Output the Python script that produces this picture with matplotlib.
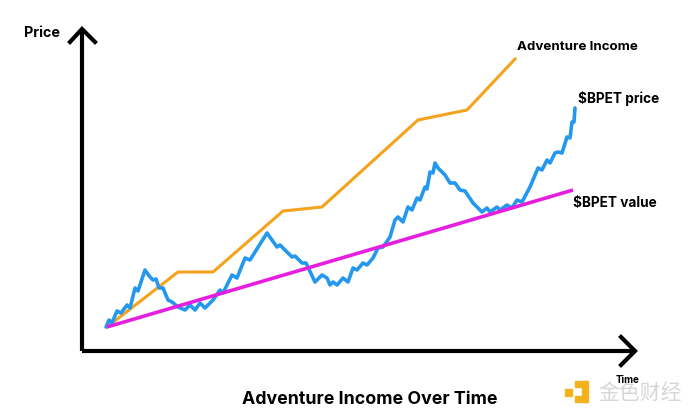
import matplotlib
matplotlib.use("Agg")
import matplotlib.pyplot as plt
from matplotlib.patches import Rectangle, Polygon

# ---- data (arbitrary units: time from origin, price from origin) ----
income_t = [25, 96, 131, 201, 240, 336, 385, 433]
income_p = [24, 79, 79, 140, 144, 231, 241, 292]

value_t = [25, 491]
value_p = [24, 161]

price_t = [24, 27, 30, 35, 39, 45, 48, 53, 56, 63, 68, 71, 74, 77, 81, 86, 90, 96,
           103, 108, 113, 118, 123, 131, 138, 141, 150, 155, 163, 168, 185, 195, 198,
           210, 213, 220, 224, 233, 240, 245, 248, 251, 255, 261, 266, 271, 275, 281,
           285, 291, 296, 301, 308, 313, 316, 321, 326, 330, 335, 338, 343, 345, 348,
           351, 353, 356, 363, 368, 373, 378, 383, 391, 400, 405, 408, 415, 418, 425,
           430, 435, 440, 448, 456, 460, 465, 468, 473, 476, 480, 485, 488, 490, 492, 493]
price_p = [24, 31, 28, 40, 38, 46, 43, 63, 60, 81, 74, 71, 72, 63, 63, 51, 49, 44,
           41, 46, 41, 48, 43, 51, 61, 58, 76, 73, 93, 91, 118, 104, 106,
           94, 95, 88, 88, 69, 76, 73, 66, 69, 66, 73, 69, 83, 81, 88,
           86, 93, 103, 104, 114, 131, 134, 129, 144, 141, 153, 151, 164, 162, 179,
           178, 188, 183, 176, 168, 168, 161, 160, 148, 139, 143, 139, 144, 141, 146,
           143, 151, 149, 164, 183, 181, 191, 188, 198, 199, 198, 214, 213, 229, 229, 243]

x_axis_end = 553
y_axis_end = 322

W, H = 700, 418
fig = plt.figure(figsize=(W / 100, H / 100), dpi=100)
ax = fig.add_axes([0, 0, 1, 1])
ax.set_xlim(-82, W - 82)
ax.set_ylim(-(H - 351), 351)
ax.axis("off")

FONT = ["Inter", "DejaVu Sans"]

# axes with arrows
ax.plot([0, 0], [0, y_axis_end], color="black", lw=3, solid_capstyle="butt")
ax.plot([0, x_axis_end], [0, 0], color="black", lw=3, solid_capstyle="butt")
ax.plot([-12, 0, 13], [y_axis_end - 13, y_axis_end, y_axis_end - 13], color="black",
        lw=3, solid_joinstyle="miter")
ax.plot([x_axis_end - 14, x_axis_end, x_axis_end - 14], [14, 0, -14], color="black",
        lw=3, solid_joinstyle="miter")

# series
ax.plot(income_t, income_p, color="#f5a21c", lw=2.2, solid_joinstyle="round")
ax.plot(price_t, price_p, color="#2398ee", lw=2.6, solid_joinstyle="round",
        solid_capstyle="round")
ax.plot(value_t, value_p, color="#e61ee0", lw=2.6, solid_capstyle="butt")

def px(x, y):
    return x / W, 1 - y / H

fig.text(*px(42, 33), "Price", ha="center", va="center", fontsize=10.3,
         fontweight="bold", family=FONT)
fig.text(*px(627, 380), "Time", ha="center", va="center", fontsize=7,
         fontweight="bold", family=FONT)
fig.text(*px(517, 47), "Adventure Income", ha="left", va="center", fontsize=9.6,
         fontweight="bold", family=FONT)
fig.text(*px(578, 99), "$BPET price", ha="left", va="center", fontsize=9.8,
         fontweight="bold", family=FONT)
fig.text(*px(573, 203), "$BPET value", ha="left", va="center", fontsize=9.8,
         fontweight="bold", family=FONT)
fig.text(*px(370, 400), "Adventure Income Over Time", ha="center", va="center",
         fontsize=12.8, fontweight="bold", family=FONT)

# watermark
wm_ax = fig.add_axes([0, 0, 1, 1], facecolor="none")
wm_ax.set_xlim(0, W)
wm_ax.set_ylim(H, 0)
wm_ax.axis("off")
wm_ax.add_patch(Rectangle((565, 389), 7, 7, color="#f3b21c"))
wm_ax.add_patch(Polygon([(575, 381), (588, 381), (588, 402), (575, 402), (575, 396),
                         (582, 396), (582, 387), (575, 387)], closed=True,
                        color="#f3b21c"))
wm_ax.text(640, 393, "金色财经", ha="center", va="center", fontsize=15,
           color="#d6d6d6", family=["Noto Sans CJK SC", "DejaVu Sans"])

fig.savefig("out.png", dpi=100, facecolor="white")
